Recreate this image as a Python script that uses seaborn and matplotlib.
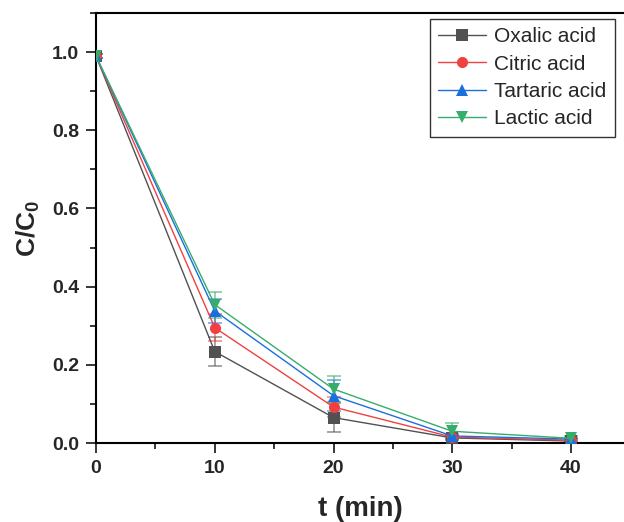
import numpy as np
import pandas as pd
import matplotlib
matplotlib.use("Agg")
import matplotlib.pyplot as plt
from matplotlib.ticker import MultipleLocator
import seaborn as sns

# data
time_min = [0, 10, 20, 30, 40]
acids = ["Oxalic acid", "Citric acid", "Tartaric acid", "Lactic acid"]
oxalic = [0.99, 0.234, 0.065, 0.013, 0.005]
citric = [0.99, 0.295, 0.092, 0.015, 0.007]
tartaric = [0.99, 0.338, 0.121, 0.018, 0.010]
lactic = [0.99, 0.354, 0.138, 0.030, 0.012]
oxalic_err = [0.005, 0.037, 0.037, 0.006, 0.004]
citric_err = [0.005, 0.034, 0.025, 0.006, 0.004]
tartaric_err = [0.005, 0.030, 0.040, 0.006, 0.004]
lactic_err = [0.005, 0.033, 0.034, 0.020, 0.005]

colors = ["#515151", "#F14040", "#1A6FDF", "#37AD6B"]
markers = ["s", "o", "^", "v"]

values = [oxalic, citric, tartaric, lactic]
errors = [oxalic_err, citric_err, tartaric_err, lactic_err]

df = pd.concat([
    pd.DataFrame({"t": time_min, "c": v, "err": e, "acid": a})
    for a, v, e in zip(acids, values, errors)
])

sns.set_style("ticks")
plt.rcParams["font.family"] = ["Liberation Sans", "DejaVu Sans"]
plt.rcParams["mathtext.fontset"] = "custom"
plt.rcParams["mathtext.rm"] = "Liberation Sans"
plt.rcParams["mathtext.bf"] = "Liberation Sans:bold"

fig = plt.figure(figsize=(6.24, 5.22), dpi=100)
# right edge of the axes sits on the image border (no right spine visible)
ax = fig.add_axes([96 / 624, 79 / 522, 528 / 624, 430 / 522])

for acid, col in zip(acids, colors):
    sub = df[df.acid == acid]
    ax.errorbar(sub.t, sub.c, yerr=sub.err, fmt="none", ecolor=col,
                elinewidth=1.2, capsize=5, capthick=1.2, alpha=0.6, zorder=2)

sns.lineplot(data=df, x="t", y="c", hue="acid", style="acid",
             palette=colors, markers=markers, dashes=False,
             markersize=8, markeredgewidth=0, linewidth=1,
             ax=ax, zorder=3)

ax.set_xlim(0, 44.46)
ax.set_ylim(0, 1.1)
ax.xaxis.set_major_locator(MultipleLocator(10))
ax.xaxis.set_minor_locator(MultipleLocator(5))
ax.yaxis.set_major_locator(MultipleLocator(0.2))
ax.yaxis.set_minor_locator(MultipleLocator(0.1))
ax.yaxis.set_major_formatter(matplotlib.ticker.FormatStrFormatter("%.1f"))

ax.tick_params(axis="both", which="major", direction="out", length=7,
               width=1.3, labelsize=14, top=False, right=False, pad=5)
ax.tick_params(axis="both", which="minor", direction="out", length=4,
               width=1.3, top=False, right=False)
for lab in ax.get_xticklabels() + ax.get_yticklabels():
    lab.set_fontweight("bold")

for side in ["left", "bottom", "top"]:
    ax.spines[side].set_linewidth(1.5)
    ax.spines[side].set_color("black")
ax.spines["right"].set_visible(False)

ax.set_xlabel("t (min)", fontsize=20, fontweight="bold", labelpad=14)
ax.set_ylabel("C/C$\\mathbf{_0}$", fontsize=19, fontweight="bold", labelpad=7)

leg = ax.legend(loc="upper right", fontsize=15, frameon=True, fancybox=False,
                edgecolor="black", borderpad=0.4, labelspacing=0.4,
                handlelength=2.3, handletextpad=0.4,
                bbox_to_anchor=(615 / 624, 503 / 522), bbox_transform=fig.transFigure,
                borderaxespad=0)
leg.get_frame().set_linewidth(1)

fig.savefig("out.png", dpi=100)
